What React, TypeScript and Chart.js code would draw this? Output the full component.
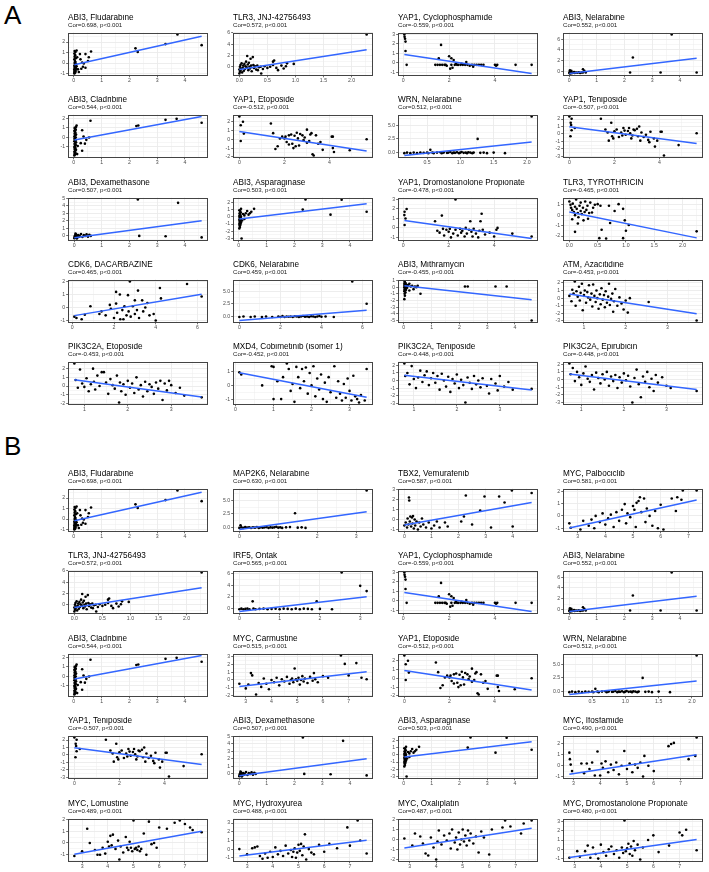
import React, { useEffect, useRef } from 'react';
import { Chart, registerables } from 'chart.js';

Chart.register(...registerables);

type Pt = [number, number];

// ---- point data (drug sensitivity on x, gene expression on y) ----
const abi3Fludarabine: Pt[] = [[0.02,-1.0],[0.03,-0.95],[0.05,-0.9],[0.02,-0.85],[0.06,-0.8],[0.04,-0.75],[0.03,-0.7],[0.07,-0.65],[0.02,-0.6],[0.05,-0.55],[0.08,-0.5],[0.03,-0.45],[0.06,-0.4],[0.04,-0.35],[0.1,-0.3],[0.02,-0.25],[0.05,-0.2],[0.08,-0.1],[0.03,0.0],[0.06,0.1],[0.04,0.2],[0.02,0.35],[0.07,0.45],[0.03,0.6],[0.05,0.75],[0.02,0.9],[0.06,1.05],[0.03,1.15],[0.1,1.2],[0.12,0.55],[0.15,-0.6],[0.18,-0.85],[0.22,0.85],[0.24,0.35],[0.27,-0.55],[0.33,-0.35],[0.36,-0.05],[0.42,0.85],[0.42,-0.45],[0.51,0.2],[0.54,0.55],[0.62,1.1],[0.3,0.05],[2.22,1.4],[2.3,1.06],[3.3,1.8],[3.73,2.72],[4.6,1.7]];
const tlr3Jnj: Pt[] = [[0.0,-1.2],[0.01,-0.9],[0.02,-0.6],[0.03,-0.3],[0.01,0.0],[0.02,0.3],[0.04,0.6],[0.0,-0.5],[0.05,-1.0],[0.06,-0.2],[0.07,0.2],[0.08,-0.7],[0.09,0.5],[0.1,-0.4],[0.11,0.1],[0.12,0.9],[0.13,-0.1],[0.14,1.9],[0.15,0.4],[0.16,-0.6],[0.17,0.7],[0.18,0.0],[0.19,-0.3],[0.2,1.4],[0.21,0.2],[0.22,-0.8],[0.24,1.7],[0.25,0.3],[0.26,-0.2],[0.28,0.1],[0.3,-0.5],[0.32,0.2],[0.33,-0.6],[0.35,-0.1],[0.38,0.0],[0.39,-1.2],[0.42,-0.4],[0.45,0.1],[0.5,-0.2],[0.55,0.0],[0.6,0.9],[0.6,0.3],[0.62,1.1],[0.66,-0.2],[0.69,-0.6],[0.75,0.2],[0.79,-0.3],[0.83,0.1],[0.85,0.6],[0.97,0.5],[2.27,5.7]];
const yap1Cyclophosphamide: Pt[] = [[0.05,3.0],[0.06,2.75],[0.08,2.55],[0.1,2.25],[0.1,1.25],[0.15,-0.2],[1.4,-0.2],[1.5,-0.2],[1.55,0.5],[1.6,-0.2],[1.65,1.9],[1.7,-0.2],[1.8,-0.2],[1.85,-0.2],[1.9,-0.3],[2.0,0.7],[2.05,-0.6],[2.1,0.5],[2.1,-0.2],[2.15,-0.5],[2.2,0.3],[2.25,-0.2],[2.3,-0.1],[2.35,-0.2],[2.4,-0.2],[2.5,-0.2],[2.55,-0.1],[2.6,-0.2],[2.7,-0.2],[2.75,0.1],[2.8,-0.2],[2.9,-0.3],[3.0,-0.2],[3.05,-0.4],[3.1,-0.2],[3.2,-0.2],[3.3,-0.2],[3.4,-0.2],[3.5,-0.2],[4.0,-0.2],[4.05,-0.3],[4.1,-0.2],[4.9,-0.2],[5.6,-0.2]];
const abi3Nelarabine: Pt[] = [[0.01,-0.3],[0.02,-0.1],[0.03,-0.4],[0.04,-0.2],[0.05,0.0],[0.06,-0.3],[0.07,-0.15],[0.08,-0.35],[0.1,-0.2],[0.12,-0.3],[0.15,-0.25],[0.18,-0.1],[0.2,-0.3],[0.25,-0.2],[0.3,-0.25],[0.35,-0.15],[0.4,-0.3],[0.45,-0.2],[0.5,0.4],[0.5,-0.2],[0.55,0.1],[0.6,-0.2],[0.03,0.2],[0.08,0.1],[2.2,-0.2],[2.3,2.6],[3.3,-0.2],[3.7,6.9],[4.6,-0.2]];
const abi3Cladribine: Pt[] = [[0.02,-1.9],[0.04,-1.8],[0.03,-1.7],[0.06,-1.6],[0.02,-1.5],[0.05,-1.4],[0.08,-1.3],[0.03,-1.2],[0.06,-1.1],[0.02,-1.0],[0.04,-0.9],[0.07,-0.8],[0.03,-0.7],[0.05,-0.6],[0.08,-0.5],[0.02,-0.4],[0.06,-0.3],[0.04,-0.2],[0.03,-0.1],[0.07,0.0],[0.02,0.1],[0.05,0.2],[0.08,0.3],[0.03,0.4],[0.06,0.5],[0.04,0.6],[0.02,0.7],[0.07,0.8],[0.05,0.9],[0.03,1.0],[0.08,1.1],[0.1,1.25],[0.12,-1.75],[0.14,-0.9],[0.6,1.75],[0.3,0.75],[0.25,-0.6],[0.4,-0.65],[0.3,-1.4],[0.55,0.0],[0.45,-0.25],[0.35,0.1],[2.25,1.2],[2.32,1.25],[3.3,1.85],[3.7,1.95],[4.6,1.55]];
const yap1Etoposide: Pt[] = [[0.0,2.6],[0.06,1.6],[0.16,2.0],[0.06,-0.2],[0.2,0.65],[1.4,1.8],[1.5,0.7],[1.6,-1.1],[1.7,-0.8],[1.8,0.1],[1.9,0.3],[2.0,0.1],[2.05,0.3],[2.1,-0.3],[2.2,0.45],[2.2,-0.6],[2.3,0.55],[2.35,-0.5],[2.4,-1.0],[2.45,0.4],[2.5,-0.8],[2.55,0.75],[2.6,0.1],[2.65,-0.7],[2.7,0.6],[2.8,0.45],[2.85,-0.1],[2.9,0.2],[3.0,1.1],[3.0,-0.4],[3.1,-0.2],[3.15,0.55],[3.2,0.7],[3.25,-1.7],[3.3,-1.85],[3.4,0.45],[3.5,-0.5],[3.6,-0.3],[3.7,-1.2],[4.1,0.3],[4.15,0.3],[4.15,-1.0],[4.2,-1.45],[4.9,-1.25],[5.65,0.0]];
const wrnNelarabine: Pt[] = [[0.16,-0.1],[0.2,0.0],[0.25,-0.1],[0.3,0.0],[0.35,-0.1],[0.4,0.0],[0.45,-0.05],[0.5,0.0],[0.52,-0.1],[0.55,0.5],[0.58,0.0],[0.6,-0.1],[0.65,0.0],[0.7,0.05],[0.72,-0.1],[0.75,0.0],[0.8,-0.05],[0.82,0.0],[0.85,0.1],[0.88,-0.1],[0.9,0.0],[0.92,-0.05],[0.95,0.05],[0.98,-0.1],[1.0,0.0],[1.02,0.1],[1.05,-0.05],[1.08,0.0],[1.1,-0.1],[1.12,0.05],[1.15,0.0],[1.18,-0.1],[1.2,0.0],[1.26,2.5],[1.3,-0.05],[1.35,0.0],[1.4,-0.1],[1.5,0.0],[1.67,-0.1],[2.07,6.6]];
const yap1Teniposide: Pt[] = [[0.0,2.35],[0.1,2.05],[0.06,1.5],[0.08,1.2],[0.05,-0.3],[0.24,0.8],[0.1,0.5],[1.4,2.05],[1.6,0.6],[1.86,1.5],[1.7,0.2],[1.75,-0.9],[1.9,-0.3],[1.95,-0.6],[2.0,0.35],[2.1,0.6],[2.2,-0.4],[2.3,0.2],[2.35,-0.2],[2.4,0.8],[2.45,0.45],[2.5,-0.1],[2.6,0.4],[2.65,0.8],[2.7,0.1],[2.75,-0.6],[2.8,-0.2],[2.85,0.6],[2.9,0.5],[3.0,0.7],[3.05,-0.3],[3.1,1.0],[3.15,-0.9],[3.2,0.2],[3.3,-0.4],[3.4,-0.1],[3.5,-0.8],[3.55,-1.1],[3.6,0.3],[3.75,-0.6],[3.8,-1.7],[3.9,-0.9],[4.05,0.3],[4.1,0.3],[4.2,-2.9],[4.85,-1.5],[5.65,0.1]];
const abi3Dexamethasone: Pt[] = [[0.01,-0.3],[0.02,-0.1],[0.03,0.0],[0.04,-0.2],[0.05,0.1],[0.06,-0.25],[0.07,0.2],[0.08,-0.15],[0.1,0.05],[0.12,-0.2],[0.15,0.1],[0.18,-0.1],[0.2,0.0],[0.25,0.25],[0.3,-0.15],[0.35,0.1],[0.4,0.0],[0.45,0.2],[0.5,-0.1],[0.55,0.15],[0.6,0.0],[0.05,0.3],[0.1,-0.35],[2.3,4.85],[2.35,0.0],[3.3,-0.05],[3.75,4.4],[4.6,-0.2]];
const abi3Asparaginase: Pt[] = [[0.02,-1.6],[0.04,-1.4],[0.03,-1.2],[0.06,-1.1],[0.02,-1.0],[0.05,-0.9],[0.08,-0.8],[0.03,-0.7],[0.06,-0.6],[0.04,-0.5],[0.02,-0.4],[0.07,-0.3],[0.05,-0.2],[0.03,-0.1],[0.08,0.0],[0.02,0.1],[0.06,0.2],[0.04,0.3],[0.03,0.5],[0.07,0.6],[0.05,0.8],[0.02,0.9],[0.08,1.1],[0.1,-3.0],[0.12,-0.5],[0.15,0.4],[0.2,0.2],[0.25,0.5],[0.3,0.8],[0.35,0.3],[0.4,0.5],[0.45,0.7],[0.55,1.1],[0.2,-0.3],[2.3,1.0],[2.4,2.4],[3.3,0.3],[3.7,2.35],[4.6,0.7]];
const yap1Dromostanolone: Pt[] = [[0.06,1.7],[0.15,2.0],[0.05,1.35],[0.1,1.0],[0.06,0.3],[1.4,0.7],[1.5,-0.3],[1.6,-0.5],[1.7,1.3],[1.75,-0.1],[1.8,-0.8],[1.9,-0.2],[2.0,-0.4],[2.05,-0.1],[2.1,-1.0],[2.2,-0.6],[2.3,3.0],[2.3,-0.2],[2.4,-0.8],[2.5,-0.1],[2.55,-0.5],[2.6,-0.3],[2.7,-0.9],[2.75,0.0],[2.8,-0.6],[2.9,-0.2],[2.95,0.7],[3.0,-0.4],[3.05,-0.9],[3.1,-0.1],[3.2,-0.6],[3.3,-1.0],[3.35,-0.3],[3.4,0.7],[3.45,1.5],[3.5,-0.2],[3.6,-0.7],[3.8,-0.5],[4.0,-0.9],[4.1,-0.2],[4.15,0.0],[4.8,-0.6],[5.65,-0.9]];
const tlr3Tyrothricin: Pt[] = [[0.0,1.3],[0.02,1.0],[0.03,0.7],[0.05,0.5],[0.06,1.1],[0.08,0.3],[0.1,0.8],[0.1,0.0],[0.12,1.5],[0.13,0.6],[0.15,0.2],[0.16,-0.2],[0.18,0.9],[0.2,0.4],[0.2,1.2],[0.22,0.1],[0.24,0.7],[0.25,-0.5],[0.27,0.3],[0.28,1.3],[0.3,0.5],[0.32,0.9],[0.33,-0.35],[0.35,0.2],[0.37,1.2],[0.4,0.25],[0.42,0.7],[0.45,1.0],[0.05,-0.4],[0.1,-1.6],[0.15,-0.8],[0.5,1.05],[0.55,0.9],[0.57,-1.4],[0.53,-2.2],[0.65,-2.24],[0.7,0.9],[0.72,-0.75],[0.8,0.4],[0.87,1.05],[0.95,0.6],[0.98,-0.5],[1.0,-1.5],[0.95,-2.2],[1.05,-0.95],[2.25,-1.55]];
const cdk6Dacarbazine: Pt[] = [[0.1,-0.7],[0.2,-0.8],[0.45,-0.9],[0.6,-0.55],[0.87,0.1],[1.3,-0.5],[1.4,-0.3],[1.6,-0.6],[1.8,0.2],[1.85,-0.1],[2.0,-0.8],[2.1,1.2],[2.1,0.3],[2.15,-0.4],[2.28,1.0],[2.3,-0.9],[2.4,-0.2],[2.45,-0.9],[2.5,0.1],[2.6,-0.6],[2.67,0.95],[2.7,-0.3],[2.76,2.0],[2.8,-0.7],[2.9,0.1],[3.0,0.55],[3.0,-0.5],[3.1,-0.2],[3.15,1.3],[3.2,-0.8],[3.35,0.55],[3.4,-0.3],[3.5,0.0],[3.6,0.35],[3.7,-0.6],[3.9,-0.5],[4.0,-1.0],[4.2,1.5],[4.25,0.7],[5.5,1.8],[6.2,0.85]];
const cdk6Nelarabine: Pt[] = [[0.0,-0.1],[0.2,0.0],[0.55,-0.1],[0.75,0.0],[1.1,-0.1],[1.3,0.0],[1.6,-0.1],[1.9,0.0],[2.0,-0.1],[2.1,0.1],[2.2,-0.1],[2.3,0.0],[2.4,-0.05],[2.5,0.0],[2.6,-0.1],[2.7,0.05],[2.8,0.0],[2.9,-0.1],[3.0,0.0],[3.1,0.1],[3.2,-0.05],[3.3,0.0],[3.4,-0.1],[3.5,0.05],[3.6,0.0],[3.7,-0.1],[3.8,0.0],[3.9,0.1],[4.0,-0.05],[4.2,0.0],[4.6,-0.1],[5.5,6.9],[6.2,2.5]];
const abi3Mithramycin: Pt[] = [[0.02,-1.8],[0.04,-1.3],[0.03,-1.0],[0.06,-0.8],[0.02,-0.6],[0.05,-0.5],[0.08,-0.4],[0.03,-0.3],[0.06,-0.2],[0.04,-0.1],[0.02,0.0],[0.07,0.1],[0.05,0.2],[0.03,0.3],[0.08,0.4],[0.02,0.5],[0.06,0.6],[0.04,0.7],[0.03,0.85],[0.1,0.2],[0.12,-0.1],[0.15,0.3],[0.2,0.5],[0.25,0.1],[0.3,0.2],[0.35,-0.3],[0.4,0.1],[0.45,0.0],[0.5,0.2],[0.6,-1.0],[0.2,-0.5],[2.2,0.1],[2.3,0.1],[3.3,0.1],[3.7,0.1],[4.6,-5.0]];
const atmAzacitidine: Pt[] = [[0.65,0.3],[0.7,-0.4],[0.72,1.1],[0.75,0.6],[0.78,2.2],[0.8,-1.0],[0.82,0.9],[0.85,0.2],[0.88,1.5],[0.9,-0.3],[0.92,0.7],[0.95,1.9],[0.97,-1.6],[1.0,0.4],[1.02,1.0],[1.05,-0.6],[1.08,0.8],[1.1,0.1],[1.12,1.7],[1.15,-0.2],[1.18,0.6],[1.2,-1.1],[1.22,1.8],[1.25,0.3],[1.28,-0.5],[1.3,1.0],[1.32,0.0],[1.35,-1.4],[1.38,0.5],[1.4,-0.8],[1.42,1.3],[1.45,-0.2],[1.48,0.4],[1.5,-1.2],[1.52,0.9],[1.55,-0.6],[1.58,0.2],[1.6,1.9],[1.62,-0.9],[1.65,-0.1],[1.68,0.6],[1.7,-1.8],[1.72,-0.4],[1.75,1.2],[1.8,-1.0],[1.85,0.1],[1.9,-0.7],[1.95,-1.5],[2.0,-0.3],[2.05,-1.9],[2.1,0.0],[2.55,-0.5],[3.7,-2.95]];
const pik3c2aEtoposide: Pt[] = [[0.77,2.6],[0.8,0.7],[0.85,-0.2],[0.9,1.9],[0.95,0.3],[1.0,-0.1],[1.05,0.9],[1.1,-0.6],[1.15,0.2],[1.2,2.0],[1.22,0.5],[1.25,-0.4],[1.3,1.2],[1.35,0.0],[1.4,1.6],[1.45,1.6],[1.5,0.4],[1.55,-0.9],[1.6,0.8],[1.65,0.1],[1.7,-0.3],[1.75,1.2],[1.8,-1.9],[1.82,0.4],[1.85,-0.6],[1.9,0.2],[1.95,-1.0],[2.0,0.6],[2.05,-0.2],[2.1,0.3],[2.15,-0.8],[2.2,1.0],[2.25,-0.4],[2.3,0.1],[2.35,-1.2],[2.4,0.5],[2.45,-0.6],[2.5,0.2],[2.55,-0.1],[2.6,-0.9],[2.65,0.4],[2.7,-0.3],[2.75,0.6],[2.8,-1.6],[2.85,0.3],[2.9,-0.5],[2.95,0.6],[3.0,0.1],[3.1,-0.8],[3.2,-0.2],[3.3,-1.1],[3.7,-1.3]];
const mxd4Cobimetinib: Pt[] = [[0.1,0.95],[0.15,0.8],[0.7,0.0],[0.95,1.4],[1.0,1.35],[1.0,-1.0],[1.1,0.3],[1.2,-1.0],[1.25,0.6],[1.35,1.6],[1.4,1.2],[1.45,-0.4],[1.5,0.1],[1.55,-1.2],[1.6,1.35],[1.65,0.6],[1.7,-0.2],[1.75,1.2],[1.8,0.3],[1.85,1.3],[1.9,-0.6],[1.95,0.9],[2.0,0.0],[2.05,1.4],[2.1,-0.8],[2.15,0.5],[2.2,-0.3],[2.25,0.8],[2.3,-1.0],[2.35,0.2],[2.4,-1.2],[2.45,0.6],[2.5,-0.5],[2.6,1.4],[2.65,-0.9],[2.7,0.3],[2.75,-0.6],[2.8,-1.1],[2.85,0.1],[2.9,-0.9],[2.95,0.5],[3.0,-0.4],[3.05,-1.1],[3.1,0.7],[3.15,-0.8],[3.2,-1.0],[3.25,-1.25],[3.3,-0.7],[3.4,-1.1],[3.45,1.2]];
const pik3c2aTeniposide: Pt[] = [[0.78,2.25],[0.8,0.6],[0.85,1.0],[0.9,-0.5],[0.95,1.9],[1.0,0.2],[1.05,-1.0],[1.1,0.4],[1.15,1.3],[1.2,-0.2],[1.25,0.7],[1.3,1.2],[1.35,-0.6],[1.4,0.3],[1.45,1.0],[1.5,-0.3],[1.55,0.6],[1.6,-1.2],[1.65,0.9],[1.7,0.0],[1.75,-0.8],[1.8,0.5],[1.85,-1.5],[1.9,0.2],[1.95,-0.4],[2.0,0.8],[2.05,-1.0],[2.1,0.1],[2.15,-0.6],[2.2,-2.9],[2.25,0.4],[2.3,-0.3],[2.35,-1.1],[2.4,0.6],[2.45,-0.5],[2.5,0.0],[2.55,-0.9],[2.6,0.3],[2.7,-0.7],[2.75,-1.7],[2.8,0.2],[2.9,-0.4],[2.95,-1.3],[3.0,0.6],[3.1,-0.8],[3.2,-0.2],[3.3,-1.2],[3.74,-1.1]];
const pik3c2aEpirubicin: Pt[] = [[0.72,2.1],[0.75,0.7],[0.8,1.5],[0.85,-0.2],[0.9,1.0],[0.95,0.3],[1.0,-0.7],[1.05,0.8],[1.1,1.7],[1.15,0.1],[1.2,-0.3],[1.25,0.6],[1.3,-1.3],[1.35,0.9],[1.4,0.2],[1.45,-0.5],[1.5,0.7],[1.55,0.0],[1.6,1.0],[1.65,-0.8],[1.7,0.4],[1.75,-0.2],[1.8,0.6],[1.85,-1.1],[1.9,0.3],[1.95,-0.4],[2.0,0.8],[2.05,-0.1],[2.1,0.5],[2.15,-0.9],[2.2,-3.0],[2.25,0.2],[2.3,1.3],[2.35,-0.6],[2.4,-2.3],[2.45,0.4],[2.5,-0.3],[2.55,1.0],[2.6,-1.0],[2.65,0.1],[2.7,-1.5],[2.75,0.6],[2.8,-0.4],[2.9,0.3],[3.0,-0.8],[3.1,-1.1],[3.71,-1.5]];
const map2k6Nelarabine: Pt[] = [[0.03,0.4],[0.0,-0.1],[0.05,0.0],[0.1,-0.1],[0.15,0.05],[0.2,-0.05],[0.25,0.0],[0.3,-0.1],[0.35,0.0],[0.4,-0.05],[0.45,0.05],[0.5,-0.1],[0.55,0.0],[0.6,-0.05],[0.65,0.0],[0.7,0.05],[0.75,-0.1],[0.8,0.0],[0.85,-0.05],[0.9,0.0],[0.95,0.1],[1.0,-0.05],[1.05,0.0],[1.1,-0.1],[1.2,0.0],[1.3,0.05],[1.43,2.6],[1.5,-0.05],[1.6,0.0],[1.7,-0.1],[3.27,6.8]];
const tbx2Vemurafenib: Pt[] = [[0.0,-0.6],[0.05,-0.3],[0.1,-0.8],[0.12,0.1],[0.15,-0.5],[0.17,2.2],[0.18,1.9],[0.2,-0.2],[0.22,0.3],[0.25,-0.7],[0.28,0.2],[0.3,-0.4],[0.32,0.35],[0.35,-0.9],[0.38,0.0],[0.4,-0.6],[0.45,-0.2],[0.5,-1.0],[0.55,-0.3],[0.6,-0.7],[0.65,0.1],[0.7,-0.5],[0.8,-0.8],[0.9,-0.3],[1.0,-0.9],[1.1,-0.6],[1.2,-0.2],[1.3,-0.8],[1.5,-0.3],[1.6,-0.7],[2.1,-0.2],[2.2,0.3],[2.27,2.4],[2.5,-0.5],[2.8,0.9],[2.96,2.3],[3.2,-0.8],[3.5,2.3],[3.7,1.7],[3.97,2.9],[4.0,-0.7],[4.7,2.65]];
const mycPalbociclib: Pt[] = [[2.7,-0.6],[2.75,-0.95],[3.1,-1.1],[3.2,-0.4],[3.4,-0.8],[3.5,-0.3],[3.6,-1.0],[3.65,0.0],[3.8,-0.5],[3.9,0.2],[4.0,-0.7],[4.1,-0.2],[4.2,0.1],[4.3,-0.9],[4.4,0.3],[4.5,-0.4],[4.6,0.5],[4.7,0.95],[4.75,-0.6],[4.8,0.2],[4.9,-0.1],[5.0,0.8],[5.05,0.5],[5.1,-0.9],[5.13,1.05],[5.2,1.2],[5.25,1.5],[5.3,0.3],[5.4,1.4],[5.45,-0.5],[5.5,0.6],[5.6,0.0],[5.7,-0.8],[5.8,0.4],[5.9,-1.0],[6.0,0.9],[6.1,-1.1],[6.4,1.4],[6.55,0.4],[6.6,1.5],[6.75,1.3],[6.8,2.05],[7.3,2.05]];
const irf5Ontak: Pt[] = [[0.0,-0.1],[0.05,0.0],[0.1,-0.1],[0.15,-0.05],[0.2,0.0],[0.25,-0.1],[0.33,1.25],[0.35,0.0],[0.4,-0.1],[0.5,-0.05],[0.6,0.0],[0.7,-0.1],[0.8,-0.05],[0.9,0.0],[1.0,-0.1],[1.1,0.0],[1.2,-0.05],[1.3,-0.1],[1.4,0.0],[1.5,-0.1],[1.6,0.0],[1.7,-0.05],[1.8,-0.1],[1.92,1.25],[2.0,-0.05],[2.3,-0.1],[2.54,6.2],[3.0,3.9],[3.16,3.0]];
const mycCarmustine: Pt[] = [[2.75,-0.5],[3.0,-1.1],[3.1,-0.6],[3.2,0.9],[3.25,0.6],[3.4,-1.9],[3.5,-0.4],[3.6,-0.9],[3.7,0.2],[3.8,-0.5],[3.9,-1.2],[4.0,0.0],[4.1,-0.3],[4.2,0.3],[4.3,-0.7],[4.4,0.1],[4.5,-0.2],[4.6,0.4],[4.7,-0.5],[4.75,0.0],[4.8,0.2],[4.85,-0.3],[4.9,1.5],[4.95,0.1],[5.0,-0.1],[5.05,0.3],[5.1,-0.6],[5.15,0.0],[5.2,0.5],[5.25,-0.2],[5.3,0.2],[5.4,-0.4],[5.5,0.4],[5.6,-0.1],[5.65,0.9],[5.7,0.1],[5.8,-0.3],[6.0,0.5],[6.2,0.3],[6.7,3.2],[6.85,2.1],[7.0,0.6],[7.3,2.2],[7.5,0.3],[7.7,0.1]];
const mycIfosfamide: Pt[] = [[2.85,1.2],[2.87,0.6],[2.9,0.1],[2.95,-0.5],[3.3,0.2],[3.4,-0.7],[3.5,0.2],[3.6,-0.3],[3.7,0.3],[3.8,-0.9],[3.9,1.3],[4.0,-0.9],[4.05,0.2],[4.1,-0.2],[4.2,0.4],[4.3,-0.6],[4.4,0.1],[4.5,-0.4],[4.6,0.3],[4.7,-0.8],[4.8,0.0],[4.9,1.35],[5.0,-0.3],[5.1,0.2],[5.2,-0.6],[5.3,0.1],[5.4,-0.2],[5.5,0.3],[5.6,-1.0],[5.65,0.9],[5.8,0.0],[6.0,-0.5],[6.55,1.8],[6.65,2.0],[6.75,2.1],[7.3,0.6],[7.55,0.9],[7.6,2.6]];
const mycLomustine: Pt[] = [[2.7,-1.1],[3.0,-0.7],[3.2,1.2],[3.3,0.0],[3.5,-0.6],[3.6,-1.0],[3.7,-1.0],[3.8,-0.4],[3.9,-0.9],[4.0,0.1],[4.05,-0.3],[4.1,0.6],[4.15,-0.2],[4.2,0.7],[4.3,-0.5],[4.4,0.2],[4.45,-1.4],[4.5,-0.3],[4.6,-0.8],[4.7,0.5],[4.75,-0.4],[4.8,-0.6],[4.85,0.1],[4.9,-0.4],[4.95,-0.7],[5.0,1.9],[5.05,-0.5],[5.1,-0.4],[5.15,-0.6],[5.2,-0.3],[5.25,-0.7],[5.3,-0.5],[5.4,0.8],[5.5,-1.0],[5.6,1.8],[5.7,-0.1],[5.8,0.0],[5.9,-0.4],[6.0,1.3],[6.3,1.2],[6.6,1.7],[6.8,1.9],[7.0,1.6],[7.2,1.3],[7.3,1.1],[7.65,0.9]];
const mycHydroxyurea: Pt[] = [[2.7,0.0],[3.0,-0.6],[3.2,0.1],[3.3,0.2],[3.4,0.3],[3.5,-0.8],[3.6,-1.1],[3.7,-0.5],[3.8,-1.0],[3.9,-0.3],[4.0,-0.9],[4.1,0.2],[4.2,-0.6],[4.3,-0.2],[4.4,-0.8],[4.5,0.4],[4.6,-0.5],[4.7,-0.1],[4.75,-0.9],[4.8,-0.3],[4.85,0.1],[4.9,-1.0],[4.95,-0.4],[5.0,0.5],[5.05,-0.2],[5.1,0.6],[5.15,-0.7],[5.2,0.3],[5.25,1.7],[5.3,-1.2],[5.4,0.0],[5.5,-0.4],[5.6,-0.6],[5.8,0.5],[6.0,-0.3],[6.2,0.6],[6.5,0.1],[6.9,2.5],[7.0,0.4],[7.3,3.3],[7.4,1.0],[7.65,-0.5]];
const mycOxaliplatin: Pt[] = [[2.8,0.1],[3.1,-0.6],[3.2,0.6],[3.4,0.3],[3.5,-0.4],[3.6,-1.4],[3.7,-1.6],[3.8,0.2],[3.9,-0.8],[4.0,-2.0],[4.05,-0.2],[4.1,0.9],[4.2,-0.5],[4.3,0.4],[4.4,-0.1],[4.5,0.6],[4.55,-0.9],[4.6,1.0],[4.7,-0.3],[4.75,0.2],[4.8,-1.0],[4.85,0.7],[4.9,-0.5],[4.95,0.0],[5.0,1.0],[5.05,-0.2],[5.1,0.4],[5.15,-0.6],[5.2,0.9],[5.25,-0.1],[5.3,0.6],[5.4,-0.4],[5.5,0.3],[5.6,-1.3],[5.7,0.8],[5.8,0.2],[6.0,-1.5],[6.1,1.0],[6.5,1.2],[6.6,1.9],[6.8,1.3],[7.2,0.6],[7.3,1.6],[7.6,1.9]];
const mycDromostanolone: Pt[] = [[2.8,-0.9],[3.1,-0.2],[3.2,-0.8],[3.4,-0.2],[3.5,0.4],[3.6,-0.9],[3.7,0.2],[3.8,-0.5],[3.9,-1.0],[4.0,0.5],[4.1,-0.3],[4.2,-0.7],[4.3,0.0],[4.4,0.3],[4.5,-0.5],[4.6,-0.1],[4.7,-0.9],[4.8,0.2],[4.85,-0.4],[4.9,3.1],[4.95,-0.2],[5.0,0.1],[5.05,0.6],[5.1,-0.5],[5.15,0.3],[5.2,-0.7],[5.25,0.9],[5.3,-0.1],[5.4,0.5],[5.5,-1.1],[5.6,0.2],[5.8,1.0],[6.0,1.5],[6.2,-0.3],[6.6,0.4],[7.0,1.8],[7.1,1.5],[7.25,2.1],[7.65,-0.1]];

// ---- linear fits: [intercept, slope] ----
const abi3FludarabineFit = [-0.17, 0.59];
const tlr3JnjFit = [-0.5, 1.55];
const yap1CyclophosphamideFit = [0.9, -0.36];
const abi3NelarabineFit = [-0.4, 0.62];
const abi3CladribineFit = [-0.28, 0.54];
const yap1EtoposideFit = [0.88, -0.39];
const wrnNelarabineFit = [-0.75, 1.3];
const yap1TeniposideFit = [0.97, -0.4];
const abi3DexamethasoneFit = [-0.25, 0.49];
const abi3AsparaginaseFit = [-0.3, 0.46];
const yap1DromostanoloneFit = [0.8, -0.34];
const tlr3TyrothricinFit = [0.3, -1.1];
const cdk6DacarbazineFit = [-0.65, 0.27];
const cdk6NelarabineFit = [-0.8, 0.33];
const abi3MithramycinFit = [0.2, -0.45];
const atmAzacitidineFit = [1.1, -0.85];
const pik3c2aEtoposideFit = [1.26, -0.68];
const mxd4CobimetinibFit = [0.97, -0.53];
const pik3c2aTeniposideFit = [1.19, -0.65];
const pik3c2aEpirubicinFit = [1.2, -0.67];
const map2k6NelarabineFit = [-0.4, 1.0];
const tbx2VemurafenibFit = [-0.55, 0.48];
const mycPalbociclibFit = [-2.3, 0.49];
const irf5OntakFit = [-0.5, 0.8];
const mycCarmustineFit = [-1.92, 0.39];
const mycIfosfamideFit = [-1.88, 0.38];
const mycLomustineFit = [-2.0, 0.39];
const mycHydroxyureaFit = [-1.8, 0.37];
const mycOxaliplatinFit = [-2.0, 0.41];
const mycDromostanoloneFit = [-2.0, 0.4];

// ---- axis break labels ----
const T_0_4 = ['0', '1', '2', '3', '4'];
const T_0_2_4 = ['0', '2', '4'];
const T_0_2_4_6 = ['0', '2', '4', '6'];
const T_HALF = ['0.0', '0.5', '1.0', '1.5', '2.0'];
const T_HALF_NO0 = ['0.5', '1.0', '1.5', '2.0'];
const T_1_3 = ['1', '2', '3'];
const T_0_3 = ['0', '1', '2', '3'];
const T_3_7 = ['3', '4', '5', '6', '7'];
const T_25 = ['0.0', '2.5', '5.0'];
const Y_M1_2 = ['-1', '0', '1', '2'];
const Y_M1_3 = ['-1', '0', '1', '2', '3'];
const Y_M2_2 = ['-2', '-1', '0', '1', '2'];
const Y_M3_2 = ['-3', '-2', '-1', '0', '1', '2'];
const Y_M2_3 = ['-2', '-1', '0', '1', '2', '3'];
const Y_0_6 = ['0', '2', '4', '6'];

interface Pair { title: string; cor: string; pts: Pt[]; fit: number[]; xt: string[]; yt: string[] }

const PAIRS: Record<string, Pair> = {
  abi3Flu: { title: 'ABI3, Fludarabine', cor: 'Cor=0.698, p<0.001', pts: abi3Fludarabine, fit: abi3FludarabineFit, xt: T_0_4, yt: Y_M1_2 },
  tlr3Jnj: { title: 'TLR3, JNJ-42756493', cor: 'Cor=0.572, p<0.001', pts: tlr3Jnj, fit: tlr3JnjFit, xt: T_HALF, yt: Y_0_6 },
  yap1Cyc: { title: 'YAP1, Cyclophosphamide', cor: 'Cor=-0.559, p<0.001', pts: yap1Cyclophosphamide, fit: yap1CyclophosphamideFit, xt: T_0_2_4, yt: Y_M1_3 },
  abi3Nel: { title: 'ABI3, Nelarabine', cor: 'Cor=0.552, p<0.001', pts: abi3Nelarabine, fit: abi3NelarabineFit, xt: T_0_4, yt: Y_0_6 },
  abi3Cla: { title: 'ABI3, Cladribine', cor: 'Cor=0.544, p<0.001', pts: abi3Cladribine, fit: abi3CladribineFit, xt: T_0_4, yt: Y_M1_2 },
  yap1Eto: { title: 'YAP1, Etoposide', cor: 'Cor=-0.512, p<0.001', pts: yap1Etoposide, fit: yap1EtoposideFit, xt: T_0_2_4, yt: Y_M2_2 },
  wrnNel: { title: 'WRN, Nelarabine', cor: 'Cor=0.512, p<0.001', pts: wrnNelarabine, fit: wrnNelarabineFit, xt: T_HALF_NO0, yt: T_25 },
  yap1Ten: { title: 'YAP1, Teniposide', cor: 'Cor=-0.507, p<0.001', pts: yap1Teniposide, fit: yap1TeniposideFit, xt: T_0_2_4, yt: Y_M3_2 },
  abi3Dex: { title: 'ABI3, Dexamethasone', cor: 'Cor=0.507, p<0.001', pts: abi3Dexamethasone, fit: abi3DexamethasoneFit, xt: T_0_4, yt: ['0', '1', '2', '3', '4', '5'] },
  abi3Asp: { title: 'ABI3, Asparaginase', cor: 'Cor=0.503, p<0.001', pts: abi3Asparaginase, fit: abi3AsparaginaseFit, xt: T_0_4, yt: Y_M3_2 },
  yap1Dro: { title: 'YAP1, Dromostanolone Propionate', cor: 'Cor=-0.478, p<0.001', pts: yap1Dromostanolone, fit: yap1DromostanoloneFit, xt: T_0_2_4, yt: Y_M1_3 },
  tlr3Tyr: { title: 'TLR3, TYROTHRICIN', cor: 'Cor=-0.465, p<0.001', pts: tlr3Tyrothricin, fit: tlr3TyrothricinFit, xt: T_HALF, yt: ['-2', '-1', '0', '1'] },
  cdk6Dac: { title: 'CDK6, DACARBAZINE', cor: 'Cor=0.465, p<0.001', pts: cdk6Dacarbazine, fit: cdk6DacarbazineFit, xt: T_0_2_4_6, yt: Y_M1_2 },
  cdk6Nel: { title: 'CDK6, Nelarabine', cor: 'Cor=0.459, p<0.001', pts: cdk6Nelarabine, fit: cdk6NelarabineFit, xt: T_0_2_4_6, yt: T_25 },
  abi3Mit: { title: 'ABI3, Mithramycin', cor: 'Cor=-0.455, p<0.001', pts: abi3Mithramycin, fit: abi3MithramycinFit, xt: T_0_4, yt: ['-5', '-4', '-3', '-2', '-1', '0', '1'] },
  atmAza: { title: 'ATM, Azacitidine', cor: 'Cor=-0.453, p<0.001', pts: atmAzacitidine, fit: atmAzacitidineFit, xt: T_1_3, yt: Y_M3_2 },
  pikEto: { title: 'PIK3C2A, Etoposide', cor: 'Cor=-0.453, p<0.001', pts: pik3c2aEtoposide, fit: pik3c2aEtoposideFit, xt: T_1_3, yt: Y_M2_2 },
  mxdCob: { title: 'MXD4, Cobimetinib (isomer 1)', cor: 'Cor=-0.452, p<0.001', pts: mxd4Cobimetinib, fit: mxd4CobimetinibFit, xt: T_0_3, yt: ['-1', '0', '1'] },
  pikTen: { title: 'PIK3C2A, Teniposide', cor: 'Cor=-0.448, p<0.001', pts: pik3c2aTeniposide, fit: pik3c2aTeniposideFit, xt: T_1_3, yt: Y_M3_2 },
  pikEpi: { title: 'PIK3C2A, Epirubicin', cor: 'Cor=-0.448, p<0.001', pts: pik3c2aEpirubicin, fit: pik3c2aEpirubicinFit, xt: T_1_3, yt: Y_M3_2 },
  mapNel: { title: 'MAP2K6, Nelarabine', cor: 'Cor=0.630, p<0.001', pts: map2k6Nelarabine, fit: map2k6NelarabineFit, xt: T_0_3, yt: T_25 },
  tbxVem: { title: 'TBX2, Vemurafenib', cor: 'Cor=0.587, p<0.001', pts: tbx2Vemurafenib, fit: tbx2VemurafenibFit, xt: T_0_4, yt: Y_M1_3 },
  mycPal: { title: 'MYC, Palbociclib', cor: 'Cor=0.581, p<0.001', pts: mycPalbociclib, fit: mycPalbociclibFit, xt: T_3_7, yt: Y_M1_2 },
  irfOnt: { title: 'IRF5, Ontak', cor: 'Cor=0.565, p<0.001', pts: irf5Ontak, fit: irf5OntakFit, xt: T_0_3, yt: Y_0_6 },
  mycCar: { title: 'MYC, Carmustine', cor: 'Cor=0.515, p<0.001', pts: mycCarmustine, fit: mycCarmustineFit, xt: T_3_7, yt: Y_M2_3 },
  mycIfo: { title: 'MYC, Ifosfamide', cor: 'Cor=0.490, p<0.001', pts: mycIfosfamide, fit: mycIfosfamideFit, xt: T_3_7, yt: Y_M1_2 },
  mycLom: { title: 'MYC, Lomustine', cor: 'Cor=0.489, p<0.001', pts: mycLomustine, fit: mycLomustineFit, xt: T_3_7, yt: Y_M1_2 },
  mycHyd: { title: 'MYC, Hydroxyurea', cor: 'Cor=0.488, p<0.001', pts: mycHydroxyurea, fit: mycHydroxyureaFit, xt: T_3_7, yt: Y_M1_3 },
  mycOxa: { title: 'MYC, Oxaliplatin', cor: 'Cor=0.487, p<0.001', pts: mycOxaliplatin, fit: mycOxaliplatinFit, xt: T_3_7, yt: Y_M2_2 },
  mycDro: { title: 'MYC, Dromostanolone Propionate', cor: 'Cor=0.480, p<0.001', pts: mycDromostanolone, fit: mycDromostanoloneFit, xt: T_3_7, yt: Y_M1_3 },
};

const GRID_A = ['abi3Flu', 'tlr3Jnj', 'yap1Cyc', 'abi3Nel', 'abi3Cla', 'yap1Eto', 'wrnNel', 'yap1Ten', 'abi3Dex', 'abi3Asp', 'yap1Dro', 'tlr3Tyr', 'cdk6Dac', 'cdk6Nel', 'abi3Mit', 'atmAza', 'pikEto', 'mxdCob', 'pikTen', 'pikEpi'];
const GRID_B = ['abi3Flu', 'mapNel', 'tbxVem', 'mycPal', 'tlr3Jnj', 'irfOnt', 'yap1Cyc', 'abi3Nel', 'abi3Cla', 'mycCar', 'yap1Eto', 'wrnNel', 'yap1Ten', 'abi3Dex', 'abi3Asp', 'mycIfo', 'mycLom', 'mycHyd', 'mycOxa', 'mycDro'];

// ---- layout ----
const FONT = '"Liberation Sans", Arial, Helvetica, sans-serif';
const COL_LEFT = [68, 233, 398, 563];
const PANEL_W = 140;
const Y_AXIS_W = 18;
const RIGHT_PAD = 4;
const CANVAS_H = 72;
const X_AXIS_H = 10.5;
const ROW_TOP_A = [18, 100.25, 182.5, 264.75, 347];
const ROW_TOP_B = [473.5, 556, 638.5, 721, 803.5];

interface Slot { key: string; left: number; top: number }

const SLOTS: Slot[] = [
  ...GRID_A.map((key, i) => ({ key, left: COL_LEFT[i % 4] - Y_AXIS_W, top: Math.round(ROW_TOP_A[Math.floor(i / 4)] - 4) })),
  ...GRID_B.map((key, i) => ({ key, left: COL_LEFT[i % 4] - Y_AXIS_W, top: Math.round(ROW_TOP_B[Math.floor(i / 4)] - 4) })),
];

function paddedRange(vals: number[]): [number, number] {
  const lo = Math.min(...vals);
  const hi = Math.max(...vals);
  const pad = (hi - lo) * 0.05;
  return [lo - pad, hi + pad];
}

interface TickObj { value: number; minor: boolean }

function buildTicks(labels: string[], lo: number, hi: number): TickObj[] {
  const majors = labels.map(Number);
  const step = majors.length > 1 ? majors[1] - majors[0] : 1;
  const out: TickObj[] = [];
  majors.forEach((v) => { if (v >= lo && v <= hi) out.push({ value: v, minor: false }); });
  for (let k = -1; k < majors.length; k++) {
    const v = majors[0] + (k + 0.5) * step;
    if (v >= lo && v <= hi) out.push({ value: v, minor: true });
  }
  return out.sort((a, b) => a.value - b.value);
}

// panel frame drawn over the marks
const panelBorder = {
  id: 'panelBorder',
  afterDatasetsDraw(chart: any) {
    const { ctx, chartArea: a } = chart;
    ctx.save();
    ctx.strokeStyle = '#444444';
    ctx.lineWidth = 1;
    ctx.strokeRect(Math.round(a.left) + 0.5, Math.round(a.top) + 0.5, Math.round(a.right - a.left) - 1, Math.round(a.bottom - a.top) - 1);
    ctx.restore();
  },
};

function axisOptions(labels: string[], range: [number, number], isX: boolean) {
  const ticks = buildTicks(labels, range[0], range[1]);
  const labelOf = new Map<number, string>();
  labels.forEach((l) => labelOf.set(Number(l), l));
  return {
    type: 'linear',
    min: range[0],
    max: range[1],
    afterBuildTicks: (s: any) => { s.ticks = ticks.map((t) => ({ ...t })); },
    afterFit: (s: any) => { if (isX) s.height = X_AXIS_H; else s.width = Y_AXIS_W; },
    ticks: {
      autoSkip: false,
      maxRotation: 0,
      minRotation: 0,
      padding: isX ? 0.3 : 1,
      color: '#4d4d4d',
      font: { family: FONT, size: 5.2 },
      callback: (v: number) => labelOf.get(v) ?? '',
    },
    grid: {
      color: '#ebebeb',
      lineWidth: (c: any) => (c.tick && c.tick.minor ? 0.45 : 0.9),
      tickLength: 1.8,
      tickWidth: 0.7,
      tickColor: (c: any) => (c.tick && c.tick.minor ? 'rgba(0,0,0,0)' : '#333333'),
      drawTicks: true,
    },
    border: { display: false },
  };
}

function makeChart(canvas: HTMLCanvasElement, pair: Pair) {
  const xs = pair.pts.map((p) => p[0]);
  const xMin = Math.min(...xs);
  const xMax = Math.max(...xs);
  const [b0, b1] = pair.fit;
  const fitLine = [{ x: xMin, y: b0 + b1 * xMin }, { x: xMax, y: b0 + b1 * xMax }];
  const xr = paddedRange(xs);
  const yr = paddedRange([...pair.pts.map((p) => p[1]), fitLine[0].y, fitLine[1].y]);
  return new Chart(canvas, {
    type: 'scatter',
    data: {
      datasets: [
        {
          type: 'line',
          data: fitLine,
          borderColor: '#3366FF',
          borderWidth: 1.5,
          pointRadius: 0,
          tension: 0,
          fill: false,
          order: 0,
        } as any,
        {
          data: pair.pts.map(([x, y]) => ({ x, y })),
          backgroundColor: '#000000',
          borderWidth: 0,
          pointRadius: 1.3,
          pointHoverRadius: 1.3,
          order: 1,
        },
      ],
    },
    options: {
      responsive: false,
      animation: false,
      devicePixelRatio: 1,
      events: [],
      layout: { padding: { left: 0, right: RIGHT_PAD, top: 0, bottom: 0 } },
      plugins: {
        legend: { display: false },
        tooltip: { enabled: false },
        title: {
          display: true,
          text: pair.title,
          align: 'start',
          fullSize: false,
          color: '#000000',
          font: { family: FONT, size: 8.2, weight: 'normal', lineHeight: 1 },
          padding: { top: 0, bottom: 0 },
        },
        subtitle: {
          display: true,
          text: pair.cor,
          align: 'start',
          fullSize: false,
          color: '#1a1a1a',
          font: { family: FONT, size: 6.1, weight: 'normal', lineHeight: 1 },
          padding: { top: 0.2, bottom: 4.0 },
        },
      },
      scales: {
        x: axisOptions(pair.xt, xr, true) as any,
        y: axisOptions(pair.yt, yr, false) as any,
      },
    } as any,
    plugins: [panelBorder],
  });
}

export default function App() {
  const refs = useRef<(HTMLCanvasElement | null)[]>([]);

  useEffect(() => {
    const charts = SLOTS.map((slot, i) => makeChart(refs.current[i] as HTMLCanvasElement, PAIRS[slot.key]));
    return () => charts.forEach((c) => c.destroy());
  }, []);

  const w = Y_AXIS_W + PANEL_W + RIGHT_PAD;
  const letter: React.CSSProperties = {
    position: 'absolute',
    left: 4,
    fontFamily: FONT,
    fontSize: 26,
    lineHeight: '26px',
    color: '#000',
    margin: 0,
  };

  return (
    <div style={{ position: 'absolute', left: 0, top: 0, width: 709, height: 872, background: '#ffffff', overflow: 'hidden' }}>
      <div style={{ ...letter, top: 2 }}>A</div>
      <div style={{ ...letter, top: 433 }}>B</div>
      {SLOTS.map((slot, i) => (
        <canvas
          key={i}
          ref={(el) => { refs.current[i] = el; }}
          width={w}
          height={CANVAS_H}
          style={{ position: 'absolute', left: slot.left, top: slot.top, width: w, height: CANVAS_H }}
        />
      ))}
    </div>
  );
}
